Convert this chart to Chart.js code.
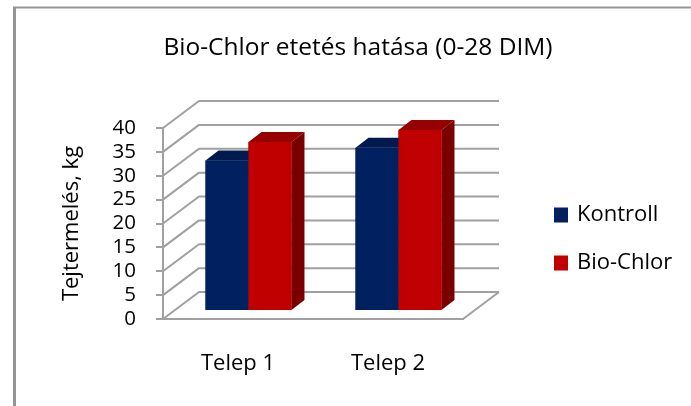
<!DOCTYPE html>
<html>
<head>
<meta charset="utf-8">
<script src="https://cdn.jsdelivr.net/npm/chart.js@4.4.0/dist/chart.umd.min.js"></script>
<style>
  body { margin: 0; background: #fff; }
  #wrap { width: 691px; height: 406px; }
</style>
</head>
<body>
<div id="wrap"><canvas id="BioChart" width="691" height="406"></canvas></div>
<script>
// data
var categories = ['Telep 1', 'Telep 2'];
var kontroll = [31.5, 34.2];
var bioChlor = [35.4, 37.9];
var yTicks = [0, 5, 10, 15, 20, 25, 30, 35, 40];
var seriesNames = ['Kontroll', 'Bio-Chlor'];
var titleText = 'Bio-Chlor etetés hatása (0-28 DIM)';
var yTitle = 'Tejtermelés, kg';

var FONT = '"Open Sans", sans-serif';
var frontColors = ['#002060', '#c00000'];
var topColors = ['#001a4e', '#960000'];
var sideColors = ['#00153f', '#7a0000'];
var GRID = '#a0a0a0';

// depth of the walls and of the bars
var WALL_DX = 36, WALL_DY = -27;
var BAR_DX = 10.5, BAR_DY = -8;
var DEPTH_DX = 13, DEPTH_DY = -10;

var threeD = {
    id: 'threeD',
    beforeDraw: function (chart) {
        var ctx = chart.ctx;
        // outer frame (only left and top are inside the picture)
        ctx.save();
        ctx.strokeStyle = '#959595';
        ctx.lineWidth = 3;
        ctx.beginPath();
        ctx.moveTo(14.5, 406);
        ctx.lineTo(14.5, 7.5);
        ctx.stroke();
        ctx.lineWidth = 2;
        ctx.beginPath();
        ctx.moveTo(13, 7.5);
        ctx.lineTo(691, 7.5);
        ctx.stroke();

        // title
        ctx.fillStyle = '#000';
        ctx.font = '24.5px ' + FONT;
        ctx.textAlign = 'center';
        ctx.textBaseline = 'alphabetic';
        ctx.fillText(titleText, 358, 55);

        // legend
        ctx.font = '22px ' + FONT;
        ctx.textAlign = 'left';
        ctx.textBaseline = 'middle';
        chart.data.datasets.forEach(function (ds, i) {
            var cy = 215 + i * 48;
            ctx.fillStyle = ds.backgroundColor;
            ctx.fillRect(554, cy - 7.5, 14, 15);
            ctx.fillStyle = '#000';
            ctx.fillText(ds.label, 577, cy);
        });
        ctx.restore();
    },
    beforeDatasetsDraw: function (chart) {
        var ctx = chart.ctx;
        var x = chart.scales.x, y = chart.scales.y;
        ctx.save();
        ctx.strokeStyle = GRID;
        ctx.lineWidth = 2;
        ctx.lineJoin = 'round';
        yTicks.forEach(function (v) {
            var py = y.getPixelForValue(v);
            ctx.beginPath();
            ctx.moveTo(x.left, py);
            ctx.lineTo(x.left + WALL_DX, py + WALL_DY);
            ctx.lineTo(x.right + WALL_DX, py + WALL_DY);
            ctx.stroke();
        });
        // floor right edge
        var p0 = y.getPixelForValue(0);
        ctx.beginPath();
        ctx.moveTo(x.right, p0);
        ctx.lineTo(x.right + WALL_DX, p0 + WALL_DY);
        ctx.stroke();
        ctx.restore();

        // bars sit a bit deeper than the front plane
        ctx.save();
        ctx.translate(BAR_DX, BAR_DY);
    },
    afterDatasetsDraw: function (chart) {
        var ctx = chart.ctx;
        // redraw series left to right so each bar covers the side of the one before
        chart.data.datasets.forEach(function (ds, i) {
            chart.getDatasetMeta(i).data.forEach(function (bar) {
                bar.draw(ctx);
                var p = bar.getProps(['x', 'y', 'base', 'width'], true);
                var l = p.x - p.width / 2, r = p.x + p.width / 2;
                ctx.fillStyle = topColors[i];
                ctx.beginPath();
                ctx.moveTo(l, p.y);
                ctx.lineTo(r, p.y);
                ctx.lineTo(r + DEPTH_DX, p.y + DEPTH_DY);
                ctx.lineTo(l + DEPTH_DX, p.y + DEPTH_DY);
                ctx.closePath();
                ctx.fill();
                ctx.fillStyle = sideColors[i];
                ctx.beginPath();
                ctx.moveTo(r, p.y);
                ctx.lineTo(r + DEPTH_DX, p.y + DEPTH_DY);
                ctx.lineTo(r + DEPTH_DX, p.base + DEPTH_DY);
                ctx.lineTo(r, p.base);
                ctx.closePath();
                ctx.fill();
            });
        });
        ctx.restore();
    }
};

var ctx = document.getElementById('BioChart').getContext('2d');
var myChart = new Chart(ctx, {
    type: 'bar',
    data: {
        labels: categories,
        datasets: [{
            label: seriesNames[0],
            data: kontroll,
            backgroundColor: frontColors[0],
            clip: false
        }, {
            label: seriesNames[1],
            data: bioChlor,
            backgroundColor: frontColors[1],
            clip: false
        }]
    },
    options: {
        responsive: false,
        animation: false,
        layout: { padding: { left: 50, right: 228, top: 128, bottom: 0 } },
        datasets: { bar: { barPercentage: 1, categoryPercentage: 0.573, borderWidth: 0 } },
        plugins: {
            legend: { display: false },
            title: { display: false },
            tooltip: { enabled: false }
        },
        scales: {
            x: {
                afterFit: function (scale) { scale.height = 87; },
                grid: { display: false },
                border: { display: true, color: GRID, width: 2 },
                ticks: { color: '#000', font: { family: FONT, size: 22 }, padding: 24 }
            },
            y: {
                min: 0,
                max: 40,
                afterFit: function (scale) { scale.width = 113; },
                afterBuildTicks: function (scale) {
                    scale.ticks = yTicks.map(function (v) { return { value: v }; });
                },
                grid: { drawOnChartArea: false, drawTicks: true, tickLength: 7, color: GRID, lineWidth: 2 },
                border: { display: true, color: GRID, width: 2 },
                ticks: { color: '#000', font: { family: FONT, size: 20.5 }, padding: 20, autoSkip: false },
                title: {
                    display: true,
                    text: yTitle,
                    color: '#000',
                    font: { family: FONT, size: 22 },
                    padding: { top: 9, bottom: 0 }
                }
            }
        }
    },
    plugins: [threeD]
});
</script>
</body>
</html>
